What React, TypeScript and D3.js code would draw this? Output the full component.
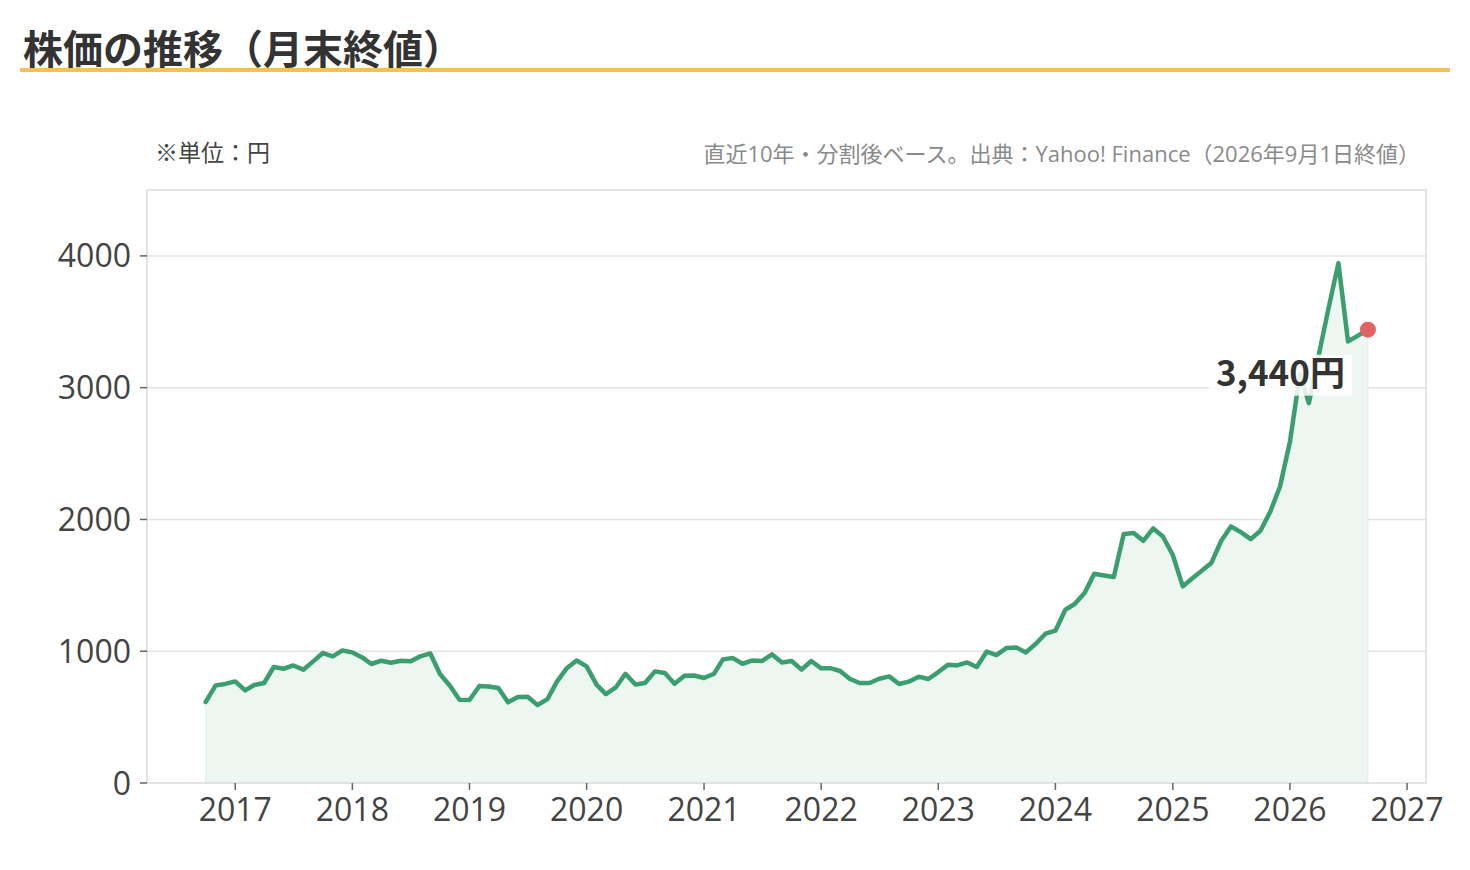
import * as React from "react";
import * as d3 from "d3";

// chart texts
const TITLE = "株価の推移（月末終値）";
const UNIT_NOTE = "※単位：円";
const SOURCE_NOTE = "直近10年・分割後ベース。出典：Yahoo! Finance（2026年9月1日終値）";

// monthly closes, first point = 2016-10, last point = 2026-09 (1st)
const FIRST_YEAR = 2016;
const FIRST_MONTH = 9; // October (0-based)
const PRICES: number[] = [
  615, 741, 752, 771, 703, 744, 759, 880, 867, 892, 860, 923,
  986, 961, 1006, 991, 953, 903, 928, 913, 928, 923, 961, 983,
  827, 738, 632, 630, 736, 733, 721, 612, 653, 655, 592, 637,
  771, 873, 930, 885, 746, 675, 725, 829, 748, 759, 847, 835,
  753, 814, 816, 797, 829, 938, 948, 905, 930, 926, 976, 915,
  926, 860, 926, 870, 870, 850, 789, 759, 759, 791, 809, 751,
  769, 807, 789, 842, 898, 892, 915, 880, 998, 971, 1024, 1029,
  991, 1057, 1133, 1156, 1315, 1358, 1442, 1588, 1575, 1563, 1889, 1897,
  1838, 1932, 1871, 1730, 1492, 1550, 1610, 1670, 1838, 1947, 1904, 1851,
  1914, 2061, 2250, 2590, 3100, 2883, 3250, 3600, 3945, 3351, 3395, 3440,
];

const Y_TICKS = [0, 1000, 2000, 3000, 4000];
const Y_MAX = 4500;
const X_TICK_YEARS = [2017, 2018, 2019, 2020, 2021, 2022, 2023, 2024, 2025, 2026, 2027];

const W = 1470;
const H = 870;
const M = { left: 147, right: 1426, top: 190, bottom: 783 };

const FONT = '"Noto Sans CJK JP", "Noto Sans", sans-serif';
const NUM_FONT = '"Open Sans", "Noto Sans CJK JP", sans-serif';
const GREEN = "#3b9e6e";
const RED = "#e06464";

export default function App() {
  const points = PRICES.map((v, i) => ({
    date: d3.utcMonth.offset(new Date(Date.UTC(FIRST_YEAR, FIRST_MONTH, 1)), i),
    value: v,
  }));
  const first = points[0];
  const last = points[points.length - 1];

  const x = d3
    .scaleUtc()
    .domain([d3.utcMonth.offset(first.date, -6), d3.utcMonth.offset(last.date, 6)])
    .range([M.left, M.right]);
  const y = d3.scaleLinear().domain([0, Y_MAX]).range([M.bottom, M.top]);

  const line = d3
    .line<{ date: Date; value: number }>()
    .x((d) => x(d.date))
    .y((d) => y(d.value));
  const area = d3
    .area<{ date: Date; value: number }>()
    .x((d) => x(d.date))
    .y0(y(0))
    .y1((d) => y(d.value));

  const lx = x(last.date);
  const ly = y(last.value);
  const label = d3.format(",")(last.value) + "円";

  return (
    <div style={{ position: "absolute", left: 0, top: 0 }}>
      <svg width={W} height={H} style={{ display: "block", fontFamily: FONT }}>
        <rect width={W} height={H} fill="#fff" />

        {/* heading */}
        <text x={23} y={64} fontSize={40} fontWeight={700} fill="#333">
          {TITLE}
        </text>
        <rect x={20} y={68} width={1430} height={4} fill="#f5be5e" />

        <text x={155} y={161} fontSize={23} fill="#444">
          {UNIT_NOTE}
        </text>
        <text
          x={1420}
          y={162}
          fontSize={22}
          fill="#8a8a8a"
          textAnchor="end"
          fontFamily={NUM_FONT}
        >
          {SOURCE_NOTE}
        </text>

        {/* grid */}
        {Y_TICKS.filter((t) => t > 0).map((t) => (
          <line
            key={t}
            x1={M.left}
            x2={M.right}
            y1={y(t)}
            y2={y(t)}
            stroke="#e3e3e3"
            strokeWidth={1.5}
          />
        ))}

        {/* series */}
        <path d={area(points) ?? ""} fill="#edf6f1" stroke="#e1efe7" strokeWidth={1} />
        <path
          d={line(points) ?? ""}
          fill="none"
          stroke={GREEN}
          strokeWidth={4.5}
          strokeLinejoin="round"
          strokeLinecap="round"
        />

        {/* frame */}
        <rect
          x={M.left}
          y={M.top}
          width={M.right - M.left}
          height={M.bottom - M.top}
          fill="none"
          stroke="#dcdcdc"
          strokeWidth={1.5}
        />

        {/* y axis */}
        {Y_TICKS.map((t) => (
          <g key={t}>
            <line x1={M.left - 7} x2={M.left} y1={y(t)} y2={y(t)} stroke="#666" strokeWidth={1.5} />
            <text
              x={M.left - 16}
              y={y(t)}
              dy="0.36em"
              fontSize={32}
              fill="#444"
              textAnchor="end"
              fontFamily={NUM_FONT}
            >
              {t}
            </text>
          </g>
        ))}

        {/* x axis */}
        {X_TICK_YEARS.map((yr) => {
          const tx = x(new Date(Date.UTC(yr, 0, 1)));
          return (
            <g key={yr}>
              <line x1={tx} x2={tx} y1={M.bottom} y2={M.bottom + 7} stroke="#666" strokeWidth={1.5} />
              <text
                x={tx}
                y={821}
                fontSize={32}
                fill="#444"
                textAnchor="middle"
                fontFamily={NUM_FONT}
              >
                {yr}
              </text>
            </g>
          );
        })}

        {/* latest value */}
        <rect x={lx - 159} y={ly + 25} width={143} height={41} fill="#fff" fillOpacity={0.85} />
        <text
          x={lx - 23}
          y={ly + 56}
          fontSize={35}
          fontWeight={700}
          fill="#333"
          textAnchor="end"
        >
          {label}
        </text>
        <circle cx={lx} cy={ly} r={8} fill={RED} />
      </svg>
    </div>
  );
}
